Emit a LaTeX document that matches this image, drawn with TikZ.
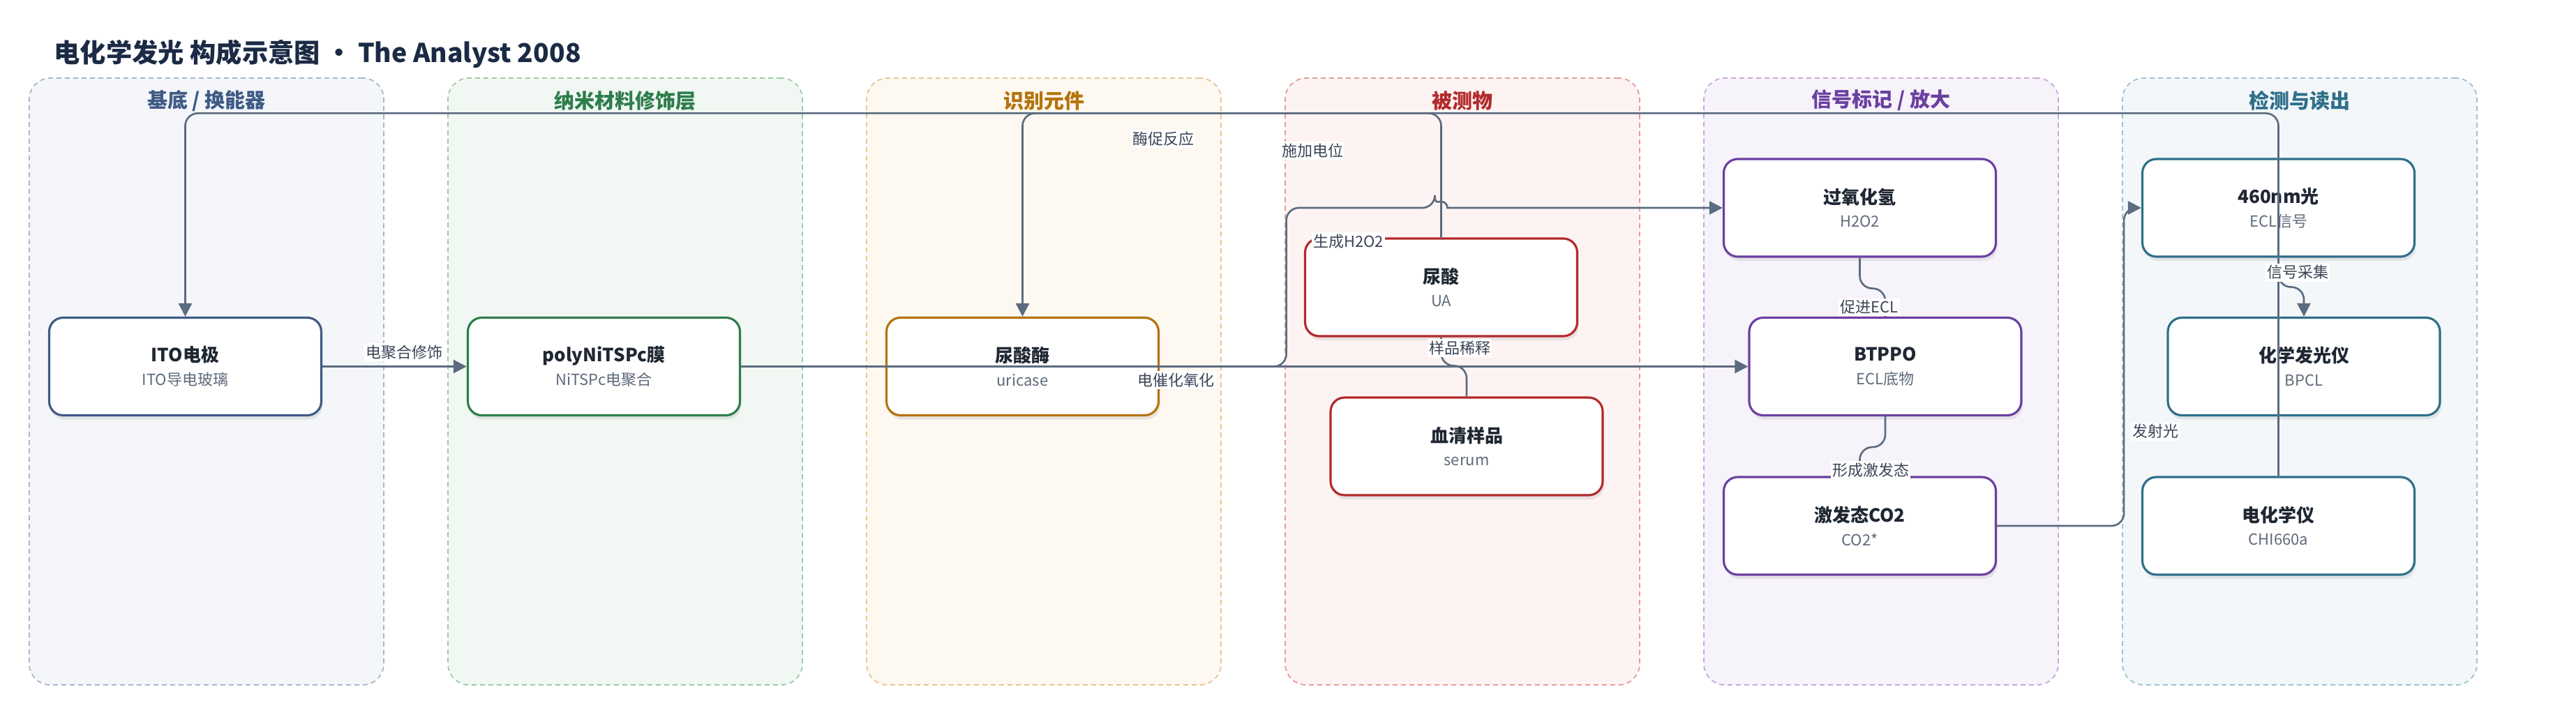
\documentclass[tikz,border=0pt]{standalone}
\usepackage{fontspec}
\setmainfont{Noto Sans CJK SC}
\usetikzlibrary{shapes.geometric, arrows.meta, positioning, shadows, calc}

\definecolor{titleink}{HTML}{1B2B45}
\definecolor{nodeink}{HTML}{1F2733}
\definecolor{subink}{HTML}{5F6B7B}
\definecolor{labelink}{HTML}{3B4557}
\definecolor{linkgray}{HTML}{5B6B80}

\definecolor{subsdark}{HTML}{3F5B85}
\definecolor{subsfill}{HTML}{F4F6FA}
\definecolor{subsdash}{HTML}{A9B6CA}
\definecolor{nanodark}{HTML}{2E7D4C}
\definecolor{nanofill}{HTML}{F1F8F3}
\definecolor{nanodash}{HTML}{9DCBAA}
\definecolor{recogdark}{HTML}{B5730D}
\definecolor{recogfill}{HTML}{FDF8F0}
\definecolor{recogdash}{HTML}{E8C58F}
\definecolor{anadark}{HTML}{B32A2A}
\definecolor{anafill}{HTML}{FDF3F2}
\definecolor{anadash}{HTML}{E59B9B}
\definecolor{sigdark}{HTML}{6B40A1}
\definecolor{sigfill}{HTML}{F7F3FB}
\definecolor{sigdash}{HTML}{C6A9DE}
\definecolor{readdark}{HTML}{2F6F8A}
\definecolor{readfill}{HTML}{F3F7F9}
\definecolor{readdash}{HTML}{9DC3D0}

\newcommand{\subline}{\fontsize{6.26}{9.6}\selectfont\mdseries\color{subink}}

\tikzstyle{panel} = [rectangle, rounded corners=0.3cm, minimum width=5.08cm, minimum height=8.7cm, line width=0.5pt, dash pattern=on 0.07cm off 0.05cm]
\tikzstyle{paneltitle} = [font=\fontsize{8.25}{10}\selectfont\bfseries]
\tikzstyle{box} = [rectangle, rounded corners=0.2cm, minimum width=3.9cm, minimum height=1.4cm, text centered, align=center, fill=white, line width=0.9pt, text=nodeink, font=\fontsize{7.4}{9.6}\selectfont, drop shadow={shadow xshift=0.02cm, shadow yshift=-0.06cm, opacity=0.16}]
\tikzstyle{edgelabel} = [fill=white, inner xsep=0.6pt, inner ysep=0.8pt, text=labelink, font=\fontsize{6.26}{7}\selectfont]
\tikzstyle{link} = [line width=0.75pt, draw=linkgray, rounded corners=0.18cm]
\tikzstyle{arrow} = [link, -{Triangle[length=0.19cm, width=0.19cm]}]

\begin{document}
\begin{tikzpicture}[node distance=6cm]
\fill [white, use as bounding box] (0,0) rectangle (36.92,-10.07);

% Title
\node (title) [anchor=west, inner sep=0pt, text=titleink, font=\fontsize{10.6}{13}\selectfont\bfseries] at (0.77,-0.77) {电化学发光 构成示意图 • The Analyst 2008};

% Panels
\node (subs) [panel, draw=subsdash, fill=subsfill] at (2.96,-5.47) {};
\node (nano) [panel, draw=nanodash, fill=nanofill, right of=subs] {};
\node (recog) [panel, draw=recogdash, fill=recogfill, right of=nano] {};
\node (ana) [panel, draw=anadash, fill=anafill, right of=recog] {};
\node (sig) [panel, draw=sigdash, fill=sigfill, right of=ana] {};
\node (read) [panel, draw=readdash, fill=readfill, right of=sig] {};

\node (subs-title) [paneltitle, text=subsdark] at ([yshift=-0.33cm]subs.north) {基底 / 换能器};
\node (nano-title) [paneltitle, text=nanodark] at ([yshift=-0.33cm]nano.north) {纳米材料修饰层};
\node (recog-title) [paneltitle, text=recogdark] at ([yshift=-0.33cm]recog.north) {识别元件};
\node (ana-title) [paneltitle, text=anadark] at ([yshift=-0.33cm]ana.north) {被测物};
\node (sig-title) [paneltitle, text=sigdark] at ([yshift=-0.33cm]sig.north) {信号标记 / 放大};
\node (read-title) [paneltitle, text=readdark] at ([yshift=-0.33cm]read.north) {检测与读出};

% Substrate
\node (ito) [box, draw=subsdark] at (2.655,-5.255) {
    \textbf{ITO电极} \\
    {\subline ITO导电玻璃}
};

% Nano layer
\node (poly) [box, draw=nanodark, right of=ito] {
    \textbf{polyNiTSPc膜} \\
    {\subline NiTSPc电聚合}
};

% Recognition
\node (uricase) [box, draw=recogdark, right of=poly] {
    \textbf{尿酸酶} \\
    {\subline uricase}
};

% Analyte
\node (ua) [box, draw=anadark, right of=uricase, yshift=1.135cm] {
    \textbf{尿酸} \\
    {\subline UA}
};
\node (serum) [box, draw=anadark, right of=uricase, xshift=0.365cm, yshift=-1.145cm] {
    \textbf{血清样品} \\
    {\subline serum}
};

% Signal
\node (h2o2) [box, draw=sigdark, right of=ua, yshift=1.14cm] {
    \textbf{过氧化氢} \\
    {\subline H2O2}
};
\node (btppo) [box, draw=sigdark, right of=serum, yshift=1.145cm] {
    \textbf{BTPPO} \\
    {\subline ECL底物}
};
\node (co2) [box, draw=sigdark, below of=h2o2, yshift=1.44cm] {
    \textbf{激发态CO2} \\
    {\subline CO2*}
};

% Readout
\node (light) [box, draw=readdark, right of=h2o2] {
    \textbf{460nm光} \\
    {\subline ECL信号}
};
\node (bpcl) [box, draw=readdark, right of=btppo] {
    \textbf{化学发光仪} \\
    {\subline BPCL}
};
\node (chi) [box, draw=readdark, right of=co2] {
    \textbf{电化学仪} \\
    {\subline CHI660a}
};

% Arrows
\draw [arrow] (ito) -- (poly);
\draw [arrow] (poly) -- (btppo);
\draw [arrow] (chi.north) -- ++(0,5.2) -| (ito.north);
\draw [arrow] (ua.north) -- ++(0,1.78) -| (uricase.north);
\draw [arrow] (uricase.east) -- ++(1.815,0) |- ($(ua.north |- h2o2.west)+(-0.09,0)$) [sharp corners] arc[start angle=180, end angle=0, radius=0.09cm] -- (h2o2.west);
\draw [link] (serum.north) -- ++(0,0.44) -| (ua.south);
\draw [link] (h2o2.south) -- ++(0,-0.44) -| (btppo.north);
\draw [link] (btppo.south) -- ++(0,-0.44) -| (co2.north);
\draw [arrow] (co2.east) -- ++(1.82,0) |- (light.west);
\draw [arrow] (light.south) -- ++(0,-0.42) -| (bpcl.north);

% Labels
\node (l-poly) [edgelabel] at (5.795,-5.05) {电聚合修饰};
\node (l-enzyme) [edgelabel] at (16.67,-1.99) {酶促反应};
\node (l-potential) [edgelabel] at (18.81,-2.16) {施加电位};
\node (l-h2o2) [edgelabel] at (19.325,-3.46) {生成H2O2};
\node (l-dilute) [edgelabel] at (20.92,-4.99) {样品稀释};
\node (l-oxid) [edgelabel] at (16.855,-5.45) {电催化氧化};
\node (l-ecl) [edgelabel] at (26.79,-4.405) {促进ECL};
\node (l-excite) [edgelabel] at (26.81,-6.74) {形成激发态};
\node (l-collect) [edgelabel] at (32.93,-3.905) {信号采集};
\node (l-emit) [edgelabel] at (30.89,-6.185) {发射光};

\end{tikzpicture}
\end{document}
